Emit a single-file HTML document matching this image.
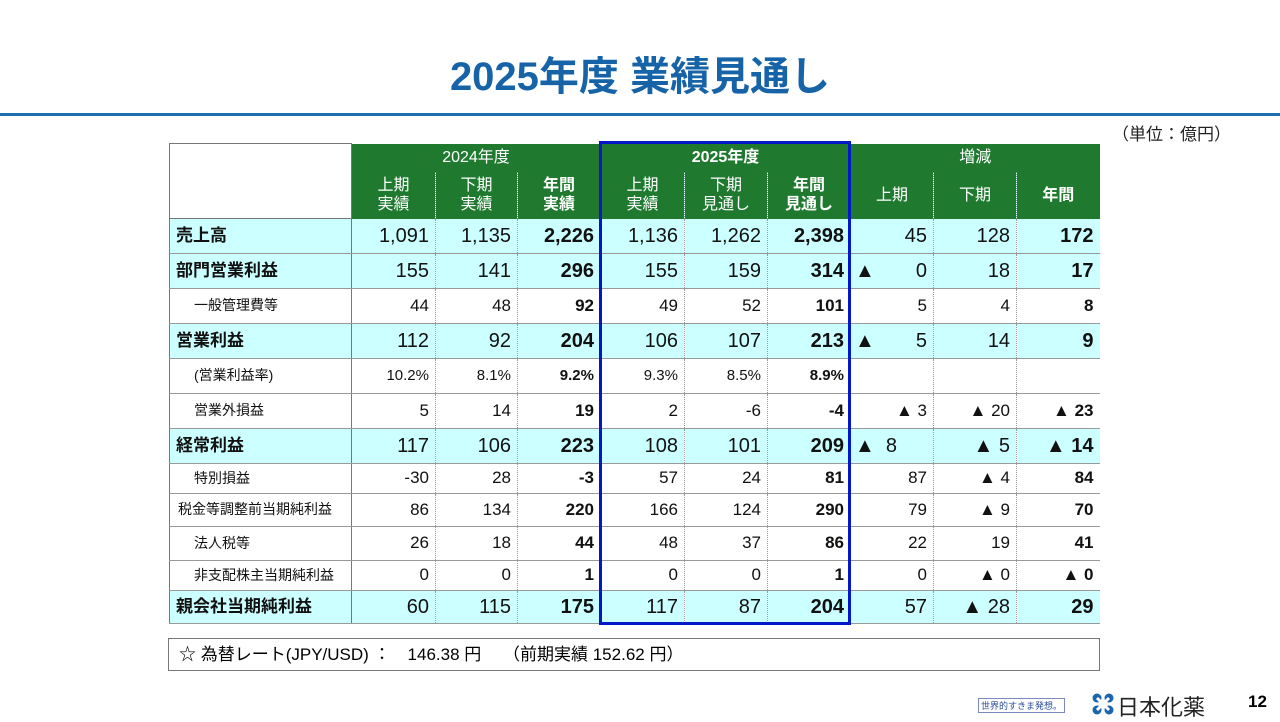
<!DOCTYPE html>
<html><head><meta charset="utf-8"><style>
body{margin:0;width:1280px;height:720px;background:#fff;position:relative;overflow:hidden;font-family:"Liberation Sans","Noto Sans CJK JP",sans-serif;}
h1{position:absolute;top:53px;left:0;width:1280px;text-align:center;margin:0;font-size:40px;line-height:48px;color:#1663a8;font-weight:bold;}
.rule{position:absolute;top:113px;left:0;width:1280px;height:3px;background:#1f6fae;}
.unit{position:absolute;top:120px;left:1112px;font-size:17px;color:#222;}
table{position:absolute;left:169px;top:143px;border-collapse:collapse;table-layout:fixed;}
td{border-bottom:1px solid #999;border-left:1px dotted #999;padding:0 6px 0 4px;text-align:right;color:#111;white-space:nowrap;overflow:hidden;line-height:1.1;}
td.l{text-align:left;border-left:1px solid #777;border-right:1px solid #777;padding-left:6px;}
tr.h td{background:#1f7a30;color:#fff;text-align:center;font-size:16px;line-height:19px;border-bottom:none;border-left:1px dotted #5a9;padding:0;}
tr.h td.e{background:#fff;border:1px solid #777;}
tr.b td{background:#ccffff;font-size:20px;}
tr.b td.l{font-weight:bold;font-size:17px;}
tr.s td{font-size:17px;background:#fff;}
tr.s td.l{font-size:14px;padding-left:24px;}
tr.p td{font-size:15px;}
b{font-weight:bold;}
.t{float:left;}
.box{position:absolute;left:599px;top:141px;width:246px;height:478px;border:3px solid #0018c8;}
.foot{position:absolute;left:168px;top:638px;height:33px;border:1px solid #777;font-size:17px;line-height:32px;padding-left:10px;box-sizing:border-box;width:932px;}
.logo{position:absolute;left:1117px;top:690px;font-size:22px;color:#222;}
.slog{position:absolute;left:978px;top:698px;font-size:9px;color:#2a4b9a;border:1px solid #7a8ac0;padding:0 2px;}
.pg{position:absolute;left:1248px;top:692px;font-size:17px;font-weight:bold;}
.mark{position:absolute;left:1092px;top:693px;width:22px;height:22px;}
</style></head><body>
<h1>2025年度 業績見通し</h1>
<div class="rule"></div>
<div class="unit">（単位：億円）</div>
<table>
<colgroup><col style="width:182px"><col style="width:84px"><col style="width:82px"><col style="width:83px"><col style="width:84px"><col style="width:83px"><col style="width:83px"><col style="width:83px"><col style="width:83px"><col style="width:83px"></colgroup>
<tr class="h" style="height:28px"><td class="e" rowspan="2"></td><td colspan="3">2024年度</td><td colspan="3"><b>2025年度</b></td><td colspan="3">増減</td></tr>
<tr class="h" style="height:47px"><td>上期<br>実績</td><td>下期<br>実績</td><td><b>年間<br>実績</b></td><td>上期<br>実績</td><td>下期<br>見通し</td><td><b>年間<br>見通し</b></td><td>上期</td><td>下期</td><td><b>年間</b></td></tr>
<tr class="b" style="height:35px"><td class="l">売上高</td><td>1,091</td><td>1,135</td><td><b>2,226</b></td><td>1,136</td><td>1,262</td><td><b>2,398</b></td><td>45</td><td>128</td><td><b>172</b></td></tr>
<tr class="b" style="height:35px"><td class="l">部門営業利益</td><td>155</td><td>141</td><td><b>296</b></td><td>155</td><td>159</td><td><b>314</b></td><td><span class="t">▲</span>0</td><td>18</td><td><b>17</b></td></tr>
<tr class="s" style="height:35px"><td class="l">一般管理費等</td><td>44</td><td>48</td><td><b>92</b></td><td>49</td><td>52</td><td><b>101</b></td><td>5</td><td>4</td><td><b>8</b></td></tr>
<tr class="b" style="height:35px"><td class="l">営業利益</td><td>112</td><td>92</td><td><b>204</b></td><td>106</td><td>107</td><td><b>213</b></td><td><span class="t">▲</span>5</td><td>14</td><td><b>9</b></td></tr>
<tr class="s p" style="height:35px"><td class="l">(営業利益率)</td><td>10.2%</td><td>8.1%</td><td><b>9.2%</b></td><td>9.3%</td><td>8.5%</td><td><b>8.9%</b></td><td></td><td></td><td></td></tr>
<tr class="s" style="height:35px"><td class="l">営業外損益</td><td>5</td><td>14</td><td><b>19</b></td><td>2</td><td>-6</td><td><b>-4</b></td><td>▲ 3</td><td>▲ 20</td><td><b>▲ 23</b></td></tr>
<tr class="b" style="height:35px"><td class="l">経常利益</td><td>117</td><td>106</td><td><b>223</b></td><td>108</td><td>101</td><td><b>209</b></td><td style="text-align:left">▲&nbsp;&nbsp;8</td><td>▲ 5</td><td><b>▲ 14</b></td></tr>
<tr class="s" style="height:30px"><td class="l">特別損益</td><td>-30</td><td>28</td><td><b>-3</b></td><td>57</td><td>24</td><td><b>81</b></td><td>87</td><td>▲ 4</td><td><b>84</b></td></tr>
<tr class="s" style="height:33px"><td class="l" style="padding-left:8px">税金等調整前当期純利益</td><td>86</td><td>134</td><td><b>220</b></td><td>166</td><td>124</td><td><b>290</b></td><td>79</td><td>▲ 9</td><td><b>70</b></td></tr>
<tr class="s" style="height:34px"><td class="l">法人税等</td><td>26</td><td>18</td><td><b>44</b></td><td>48</td><td>37</td><td><b>86</b></td><td>22</td><td>19</td><td><b>41</b></td></tr>
<tr class="s" style="height:30px"><td class="l">非支配株主当期純利益</td><td>0</td><td>0</td><td><b>1</b></td><td>0</td><td>0</td><td><b>1</b></td><td>0</td><td>▲ 0</td><td><b>▲ 0</b></td></tr>
<tr class="b" style="height:33px"><td class="l">親会社当期純利益</td><td>60</td><td>115</td><td><b>175</b></td><td>117</td><td>87</td><td><b>204</b></td><td>57</td><td>▲ 28</td><td><b>29</b></td></tr>
</table>
<div class="box"></div>
<div class="foot">☆ 為替レート(JPY/USD) ：　146.38 円　 （前期実績 152.62 円）</div>
<div class="slog">世界的すきま発想。</div>
<svg class="mark" viewBox="0 0 22 22"><circle cx="5" cy="5" r="4.5" fill="#1a64b0"/><circle cx="17" cy="5" r="4.5" fill="#1a64b0"/><circle cx="5" cy="17" r="4.5" fill="#1a64b0"/><circle cx="17" cy="17" r="4.5" fill="#1a64b0"/><path d="M5 5L17 17M17 5L5 17" stroke="#fff" stroke-width="3"/></svg>
<div class="logo">日本化薬</div>
<div class="pg">12</div>
</body></html>
